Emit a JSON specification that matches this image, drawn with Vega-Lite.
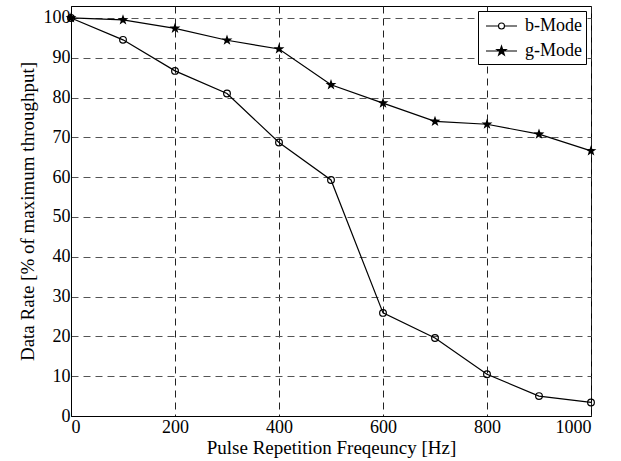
{
  "$schema": "https://vega.github.io/schema/vega-lite/v6.json",
  "width": 520,
  "height": 410,
  "autosize": "none",
  "padding": {"left": 71, "top": 6, "right": 30, "bottom": 45},
  "background": "white",
  "config": {
    "font": "Times New Roman, Liberation Serif, DejaVu Serif, serif",
    "view": {"stroke": "black", "strokeWidth": 1},
    "axis": {
      "labelFont": "Times New Roman, Liberation Serif, DejaVu Serif, serif",
      "titleFont": "Times New Roman, Liberation Serif, DejaVu Serif, serif",
      "labelFontSize": 18,
      "titleFontSize": 19,
      "labelColor": "black",
      "titleColor": "black",
      "titleFontWeight": "normal",
      "domainColor": "black",
      "domainWidth": 1,
      "ticks": false,
      "gridDash": [7, 5],
      "gridWidth": 1
    },
    "legend": {
      "labelFont": "Times New Roman, Liberation Serif, DejaVu Serif, serif",
      "labelFontSize": 18,
      "labelColor": "black"
    }
  },
  "data": {
    "values": [
      {"f": 0, "v": 100, "series": "b-Mode"},
      {"f": 100, "v": 94.5, "series": "b-Mode"},
      {"f": 200, "v": 86.7, "series": "b-Mode"},
      {"f": 300, "v": 81.0, "series": "b-Mode"},
      {"f": 400, "v": 68.7, "series": "b-Mode"},
      {"f": 500, "v": 59.3, "series": "b-Mode"},
      {"f": 600, "v": 25.9, "series": "b-Mode"},
      {"f": 700, "v": 19.6, "series": "b-Mode"},
      {"f": 800, "v": 10.5, "series": "b-Mode"},
      {"f": 900, "v": 5.0, "series": "b-Mode"},
      {"f": 1000, "v": 3.4, "series": "b-Mode"},
      {"f": 0, "v": 100, "series": "g-Mode"},
      {"f": 100, "v": 99.5, "series": "g-Mode"},
      {"f": 200, "v": 97.4, "series": "g-Mode"},
      {"f": 300, "v": 94.4, "series": "g-Mode"},
      {"f": 400, "v": 92.2, "series": "g-Mode"},
      {"f": 500, "v": 83.2, "series": "g-Mode"},
      {"f": 600, "v": 78.6, "series": "g-Mode"},
      {"f": 700, "v": 74.0, "series": "g-Mode"},
      {"f": 800, "v": 73.3, "series": "g-Mode"},
      {"f": 900, "v": 70.8, "series": "g-Mode"},
      {"f": 1000, "v": 66.6, "series": "g-Mode"}
    ]
  },
  "encoding": {
    "x": {
      "field": "f",
      "type": "quantitative",
      "scale": {"domain": [0, 1000], "nice": false},
      "axis": {
        "title": "Pulse Repetition Freqeuncy [Hz]",
        "values": [0, 200, 400, 600, 800, 1000],
        "format": "d",
        "labelPadding": 2,
        "titlePadding": 2,
        "gridColor": "#222"
      }
    },
    "y": {
      "field": "v",
      "type": "quantitative",
      "scale": {"domain": [0, 103], "nice": false},
      "axis": {
        "title": "Data Rate [% of maximum throughput]",
        "values": [0, 10, 20, 30, 40, 50, 60, 70, 80, 90, 100],
        "format": "d",
        "labelPadding": 1,
        "titlePadding": 6,
        "gridColor": "#555"
      }
    }
  },
  "layer": [
    {
      "mark": {"type": "line", "color": "black", "strokeWidth": 1.2},
      "encoding": {"detail": {"field": "series"}}
    },
    {
      "transform": [{"filter": "datum.series === 'b-Mode'"}],
      "mark": {"type": "point", "shape": "circle", "filled": false, "color": "black", "size": 45, "strokeWidth": 1.2, "opacity": 1}
    },
    {
      "transform": [{"filter": "datum.series === 'g-Mode'"}],
      "mark": {"type": "point", "shape": "M0,-1L0.235,-0.324L0.951,-0.309L0.380,0.124L0.588,0.809L0,0.4L-0.588,0.809L-0.380,0.124L-0.951,-0.309L-0.235,-0.324Z", "filled": true, "color": "black", "size": 130, "opacity": 1}
    },
    {
      "mark": {"type": "point", "filled": false, "color": "black", "strokeWidth": 1.1, "opacity": 0},
      "encoding": {
        "shape": {
          "field": "series",
          "type": "nominal",
          "scale": {
            "domain": ["b-Mode", "g-Mode"],
            "range": [
              "M-0.7,0H0.55M1.15,0H2.4M1.15,0A0.3,0.3,0,1,1,0.55,0A0.3,0.3,0,1,1,1.15,0Z",
              "M-0.7,0H2.4M0.85,-0.5L0.9676,-0.1618L1.3255,-0.1545L1.0402,0.0618L1.1439,0.4045L0.85,0.2L0.5561,0.4045L0.6598,0.0618L0.3745,-0.1545L0.7324,-0.1618ZM0.85,0L0.85,-0.5M0.85,0L1.3255,-0.1545M0.85,0L1.1439,0.4045M0.85,0L0.5561,0.4045M0.85,0L0.3745,-0.1545M0.85,-0.25L0.9088,-0.0809L1.0878,-0.0773L0.9451,0.0309L0.997,0.2023L0.85,0.1L0.703,0.2023L0.7549,0.0309L0.6123,-0.0773L0.7912,-0.0809Z"
            ]
          },
          "legend": {
            "title": null,
            "orient": "top-right",
            "offset": 5,
            "padding": 4,
            "strokeColor": "black",
            "fillColor": "white",
            "symbolSize": 400,
            "symbolStrokeWidth": 1.1,
            "symbolStrokeColor": "black",
            "symbolOpacity": 1,
            "labelOffset": 21,
            "rowPadding": 5
          }
        }
      }
    }
  ]
}
